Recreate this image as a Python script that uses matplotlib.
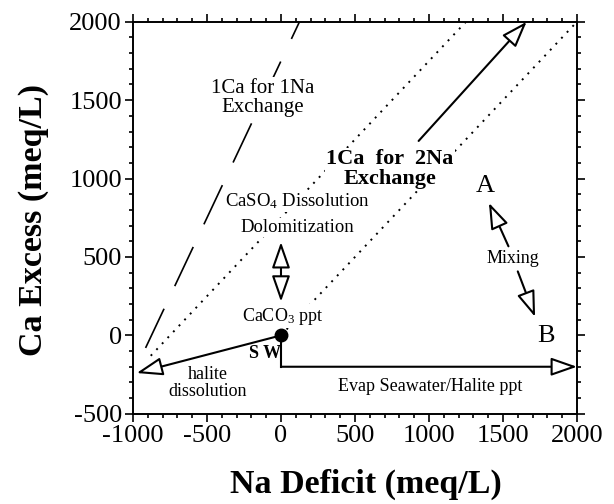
import matplotlib
matplotlib.use("Agg")
import matplotlib.pyplot as plt
from matplotlib.ticker import MultipleLocator

plt.rcParams['font.family'] = 'serif'
plt.rcParams['font.serif'] = ['Liberation Serif', 'DejaVu Serif']
plt.rcParams['mathtext.fontset'] = 'custom'
plt.rcParams['mathtext.rm'] = 'Liberation Serif'
plt.rcParams['mathtext.it'] = 'Liberation Serif:italic'
plt.rcParams['mathtext.bf'] = 'Liberation Serif:bold'
plt.rcParams['axes.unicode_minus'] = False

# seawater point
sw_x, sw_y = 0, 0

# reference lines
ex1_x = [-915, 125]      # 1Ca for 1Na, dashed
ex1_y = [-80, 2000]
dot1_x = [-880, 1250]    # dotted, upper
dot1_y = [-130, 2000]
dot2_x = [0, 2000]       # dotted, lower
dot2_y = [0, 2000]

# evaporation path: down from SW then right
evap_x = [0, 0, 2000]
evap_y = [0, -200, -200]

# arrows: (tail, tip)
arrow_tails = [(930, 1240), (0, 0), (1537, 568), (1600, 408)]
arrow_tips = [(1660, 2000), (-975, -240), (1405, 845), (1717, 118)]
dbl_arrow = [(0, 215), (0, 595)]

fig = plt.figure(figsize=(6.14, 5.04), dpi=100)
ax = fig.add_axes([0.2166, 0.179, 0.7231, 0.7778])

ax.plot(ex1_x, ex1_y, color='k', lw=1.2, linestyle=(0, (26, 15)), zorder=1)
ax.plot(dot1_x, dot1_y, color='k', lw=1.4, linestyle=(0, (1, 3.2)), zorder=1)
ax.plot(dot2_x, dot2_y, color='k', lw=1.4, linestyle=(0, (1, 3.2)), zorder=1)
ax.plot(evap_x[:2], evap_y[:2], color='k', lw=1.5, zorder=2)

aprops = dict(arrowstyle='-|>,head_length=1.0,head_width=0.35', fc='white', ec='k',
              lw=1.5, mutation_scale=16, shrinkA=0, shrinkB=0)
for tail, tip in zip(arrow_tails, arrow_tips):
    ax.annotate('', xy=tip, xytext=tail, arrowprops=aprops, zorder=3)
ax.annotate('', xy=(evap_x[2], evap_y[2]), xytext=(evap_x[1], evap_y[1]),
            arrowprops=aprops, zorder=3)
ax.annotate('', xy=dbl_arrow[1], xytext=dbl_arrow[0],
            arrowprops=dict(aprops, arrowstyle='<|-|>,head_length=1.0,head_width=0.35'),
            zorder=3)

ax.plot([sw_x], [sw_y], 'o', color='k', ms=9, zorder=5)

wb = dict(facecolor='white', edgecolor='none', pad=1)
ax.text(-122, 1515, '1Ca for 1Na\nExchange', ha='center', va='center',
        fontsize=15, linespacing=1.0, bbox=wb, zorder=4)
ax.text(736, 1059, '1Ca  for  2Na\nExchange', ha='center', va='center',
        fontsize=16, fontweight='bold', linespacing=1.0, bbox=wb, zorder=4)
ax.text(108, 855, r'CaSO$_4$ Dissolution', ha='center', va='center',
        fontsize=13.5, bbox=wb, zorder=4)
ax.text(108, 689, 'Dolomitization', ha='center', va='center',
        fontsize=13.5, bbox=wb, zorder=4)
ax.text(14, 121, r'CaCO$_3$ ppt', ha='center', va='center',
        fontsize=13, bbox=wb, zorder=4)
ax.text(-108, -115, 'S W', ha='center', va='center', fontsize=13,
        fontweight='bold', zorder=4)
ax.text(-493, -306, 'halite\ndissolution', ha='center', va='center',
        fontsize=13, linespacing=1.0, zorder=4)
ax.text(1007, -325, 'Evap Seawater/Halite ppt', ha='center', va='center',
        fontsize=13, zorder=4)
ax.text(1570, 490, 'Mixing', ha='center', va='center', fontsize=13,
        bbox=wb, zorder=4)
ax.text(1378, 950, 'A', ha='center', va='center', fontsize=19, zorder=4)
ax.text(1790, -6, 'B', ha='center', va='center', fontsize=19, zorder=4)

ax.set_xlim(-1000, 2000)
ax.set_ylim(-500, 2000)
ax.xaxis.set_major_locator(MultipleLocator(500))
ax.xaxis.set_minor_locator(MultipleLocator(100))
ax.yaxis.set_major_locator(MultipleLocator(500))
ax.yaxis.set_minor_locator(MultipleLocator(100))
ax.tick_params(which='both', direction='out', top=True, right=True,
               labelsize=19, width=1.2, pad=2)
ax.tick_params(which='major', length=6)
ax.tick_params(which='minor', length=3)
for s in ax.spines.values():
    s.set_linewidth(1.4)

ax.set_xlabel('Na Deficit (meq/L)', fontsize=24.5, fontweight='bold')
ax.set_ylabel('Ca Excess (meq/L)', fontsize=24.5, fontweight='bold')
ax.xaxis.set_label_coords(0.525, -0.14)
ax.yaxis.set_label_coords(-0.19, 0.495)

fig.savefig('out.png', dpi=100)
